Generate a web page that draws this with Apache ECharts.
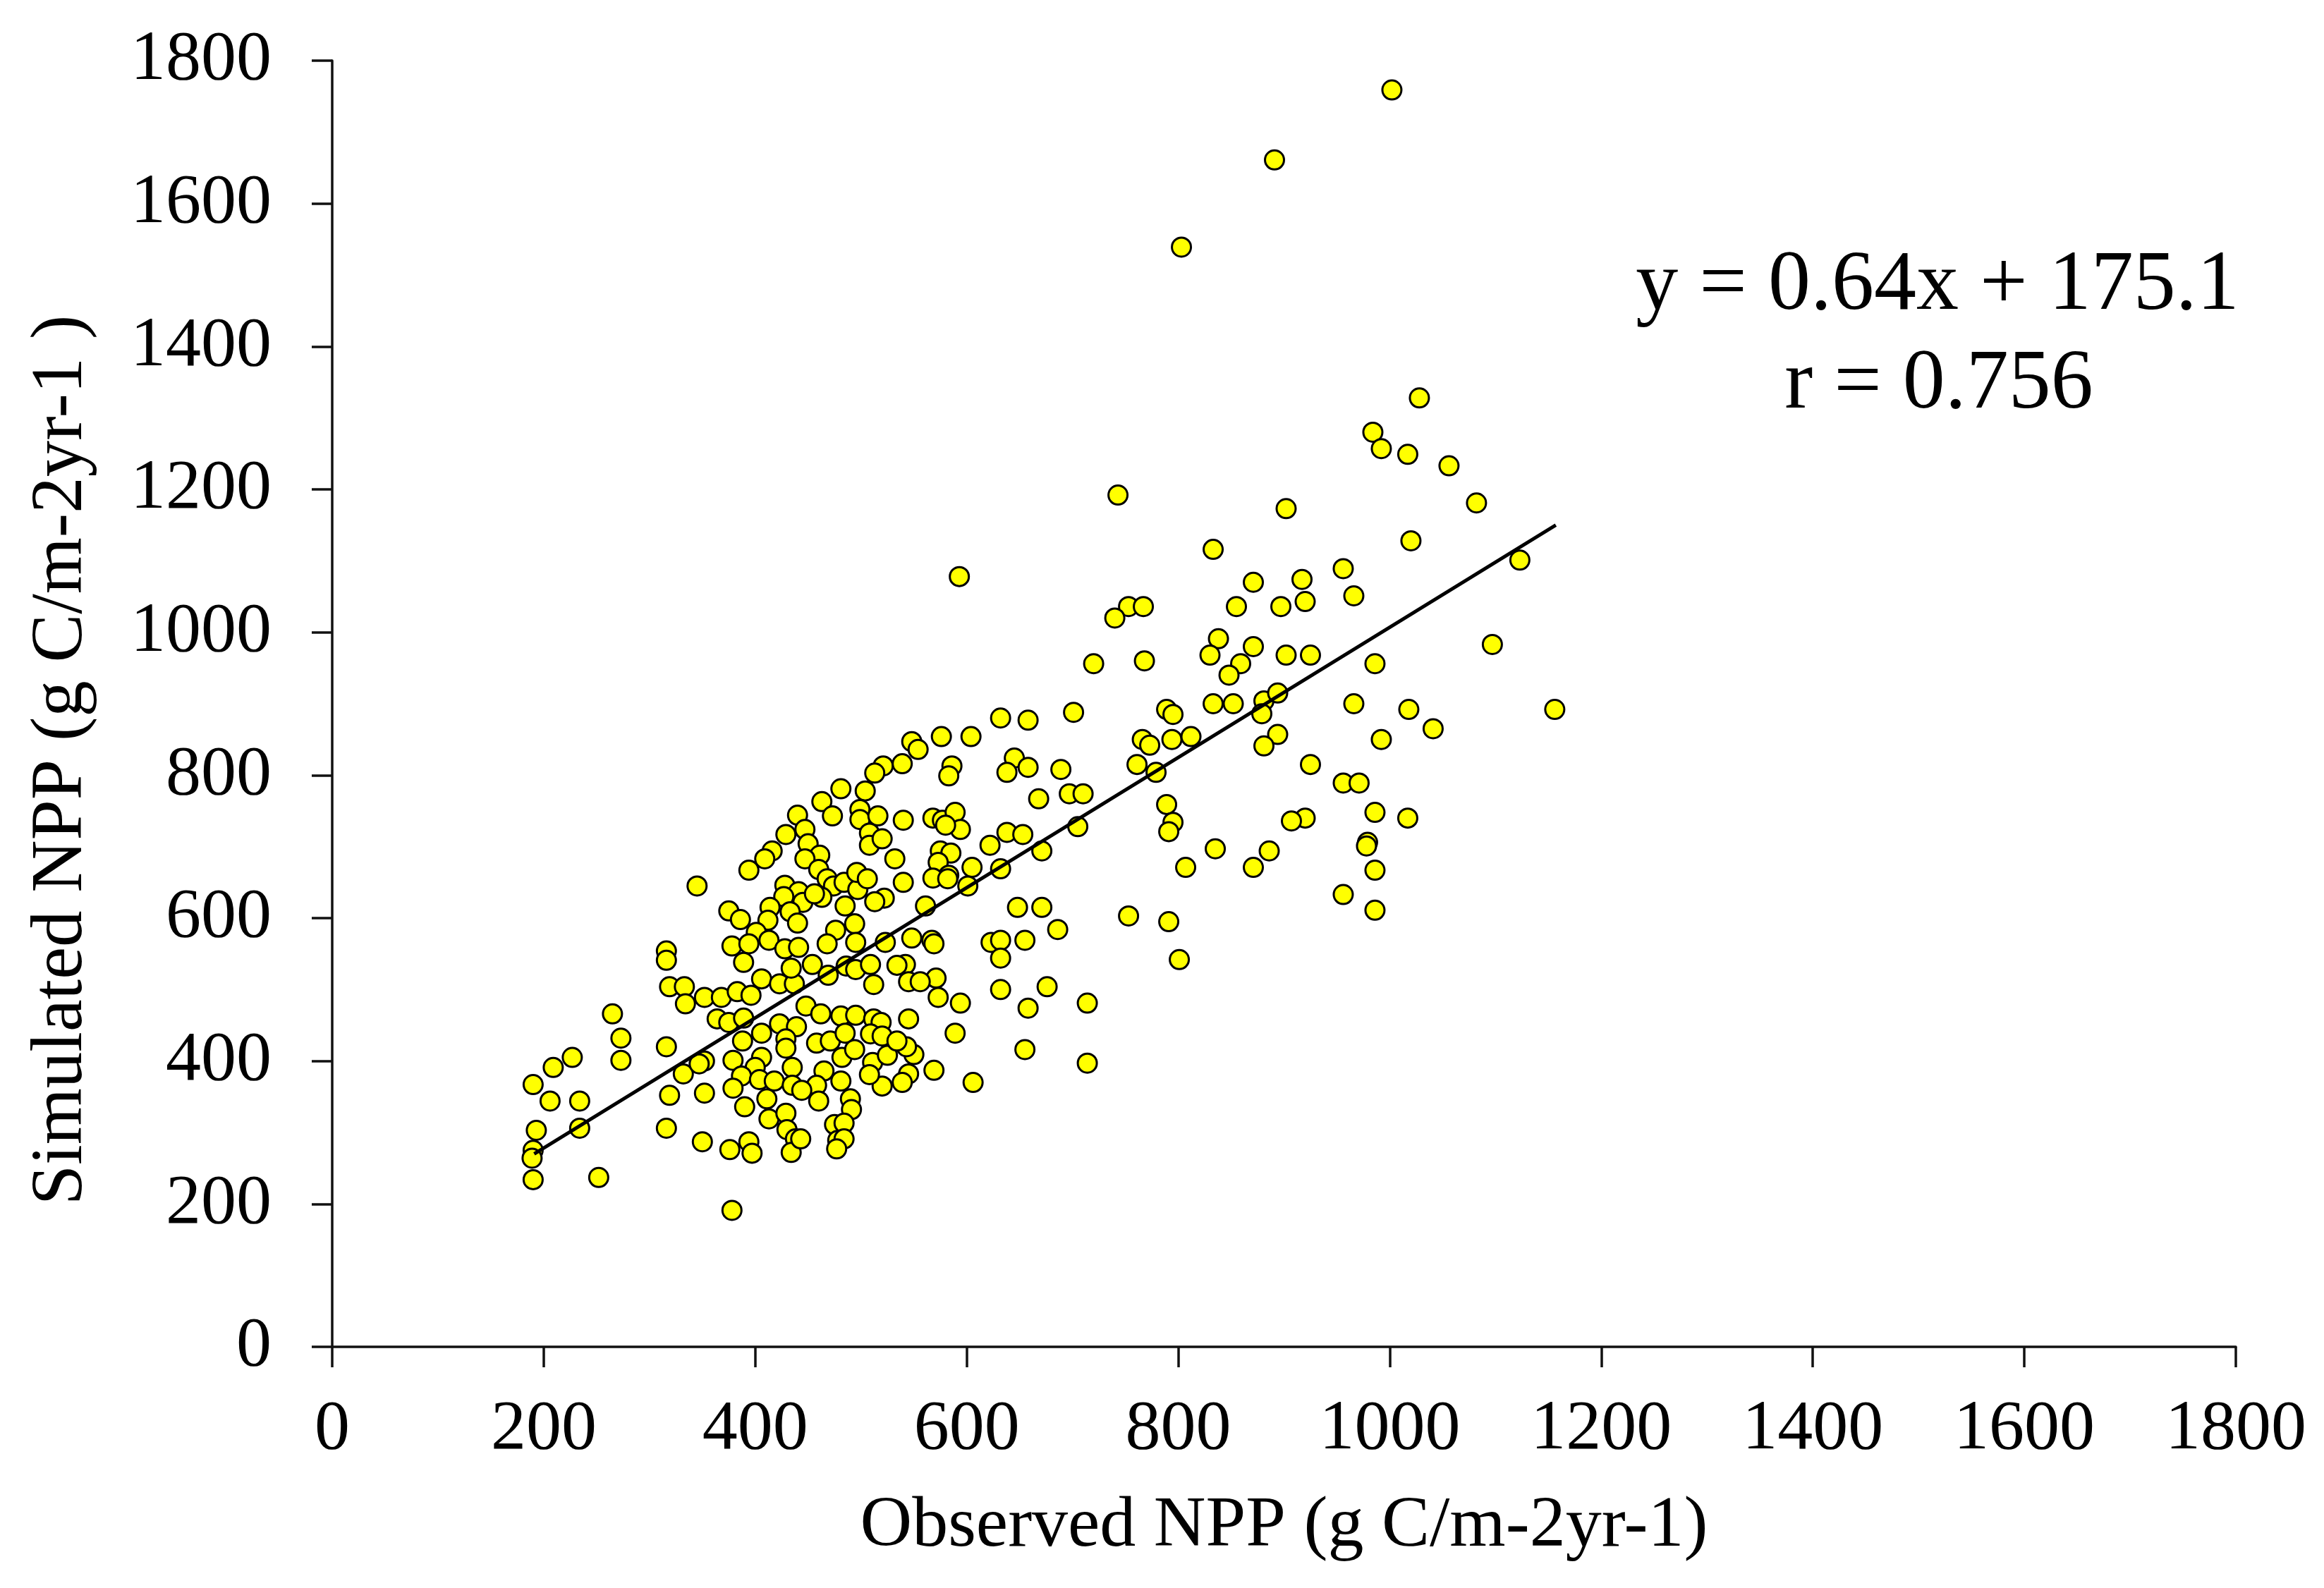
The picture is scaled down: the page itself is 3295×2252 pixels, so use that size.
<!DOCTYPE html>
<html>
<head>
<meta charset="utf-8">
<script src="https://cdn.jsdelivr.net/npm/echarts@6/dist/echarts.min.js"></script>
<style>
  html, body { margin: 0; padding: 0; background: #fff; }
  #npp { width: 3295px; height: 2252px; }
</style>
</head>
<body>
<div id="npp"></div>
<script>
// observed / simulated NPP (g C m-2 yr-1)
var observed = [
    1002, 891, 803, 1028, 593,
    481, 463, 473, 440, 447, 429, 450, 416, 461, 447, 409, 394, 460, 468, 345,
    428, 441, 474, 484, 497, 427, 445, 463, 456, 485, 375, 414, 433, 386, 412,
    440, 401, 476, 378, 394, 413, 428, 441, 468, 316,
    316, 319, 333, 334, 352, 368, 383, 396, 389, 406, 423, 437, 434, 454, 469,
    486, 495, 364, 375, 389, 265, 273, 273, 227, 316, 388, 406, 423, 439, 448,
    462, 481, 495, 429, 429, 458, 471, 485, 482, 494, 352, 379, 332, 347, 406,
    400, 387, 404, 418, 435, 435, 465, 481, 458, 444, 460, 490, 491, 319, 352,
    379, 390, 411, 234, 234, 316, 413, 429, 430, 438, 434, 443, 350, 376, 394,
    397, 475, 484, 478, 484, 477, 252, 378,
    209, 190, 206, 193, 190, 189, 190,
    632, 658, 548, 554, 576, 604, 521, 513, 539, 645, 638, 658, 586, 583, 504,
    668, 499, 499, 516, 540, 568, 577, 589, 594, 580, 508, 508, 520, 532, 622,
    638, 653, 671, 575, 585, 573, 605, 632, 583, 568, 582, 601, 496, 506, 540,
    522, 513, 561, 494, 495, 548, 567, 569, 523, 648, 671, 686, 623, 632, 655,
    632, 632, 676, 658, 714, 594, 573, 571, 589, 545, 655, 714, 606, 569, 550,
    543, 545, 539, 520, 511, 525, 508, 512, 519, 509, 520, 534, 509, 512, 542,
    534, 545, 556,
    984, 992, 1017, 1056, 1082, 743, 902, 1020, 833, 956, 871, 917, 966, 920, 855,
    897, 753, 767, 740, 838, 830, 871, 902, 925, 859, 848, 720, 768, 986, 701,
    789, 795, 833, 852, 881, 894, 879, 966, 1018, 1041, 992, 766, 773, 794, 812,
    894, 881, 761, 779, 689, 697, 710, 705, 925, 956, 971, 789, 795, 791, 986,
    1017, 920, 907, 979, 978, 986, 956, 986, 886, 871, 835, 807, 753, 791, 801,
    1123, 1097, 1156
];
var simulated = [
    1759, 1661, 1539, 1328, 1078,
    781, 763, 743, 744, 724, 717, 704, 694, 688, 683, 683, 667, 668, 655, 645,
    646, 637, 645, 650, 640, 630, 622, 629, 634, 617, 610, 615, 609, 598, 597,
    593, 580, 583, 561, 564, 569, 557, 559, 564, 554,
    541, 504, 504, 480, 489, 489, 497, 492, 538, 515, 508, 508, 530, 535, 520,
    533, 528, 459, 454, 460, 466, 432, 401, 405, 420, 428, 439, 452, 448, 477,
    466, 463, 464, 431, 418, 425, 428, 439, 405, 416, 400, 401, 382, 396, 405,
    391, 379, 374, 372, 391, 366, 386, 372, 366, 359, 344, 347, 332, 352, 355,
    362, 336, 347, 344, 306, 306, 319, 327, 304, 291, 272, 291, 287, 276, 287,
    271, 311, 313, 289, 291, 277, 237, 191,
    391, 367, 344, 303, 275, 264, 234,
    880, 877, 847, 836, 854, 854, 813, 803, 816, 824, 804, 811, 813, 799, 778,
    767, 752, 738, 743, 737, 740, 737, 748, 724, 730, 719, 702, 711, 683, 702,
    720, 717, 694, 694, 691, 678, 671, 669, 660, 656, 655, 645, 664, 655, 650,
    628, 623, 617, 592, 566, 572, 569, 564, 566, 615, 615, 584, 566, 569, 569,
    544, 500, 504, 474, 481, 481, 489, 516, 439, 459, 416, 397, 370, 387, 409,
    420, 382, 370, 365, 398, 408, 381, 459, 454, 438, 435, 428, 535, 507, 535,
    534, 511, 511,
    1280, 1257, 1249, 1233, 1181, 1192, 1173, 1128, 1116, 1089, 1070, 1074, 1051, 1043, 1036,
    1036, 1036, 1036, 1020, 991, 968, 980, 968, 968, 956, 940, 956, 960, 956, 888,
    892, 885, 900, 900, 904, 915, 886, 900, 892, 865, 850, 850, 842, 850, 854,
    857, 841, 815, 804, 808, 774, 774, 728, 815, 789, 789, 759, 734, 721, 748,
    740, 740, 736, 706, 701, 667, 633, 611, 694, 671, 697, 671, 603, 595, 542,
    1101, 983, 892
];
// fitted line, ends as drawn
var trendX = [191, 1157];
var trendY = [270, 1150];

var points = [];
for (var i = 0; i < observed.length; i++) {
    points.push([observed[i], simulated[i]]);
}
var trend = [];
for (var j = 0; j < trendX.length; j++) {
    trend.push([trendX[j], trendY[j]]);
}

var serif = 'Liberation Serif, Times New Roman, serif';
var plain = function (v) { return String(v); };
var axisCommon = {
    type: 'value',
    min: 0,
    max: 1800,
    interval: 200,
    axisLine: { show: true, lineStyle: { color: '#111', width: 3.5 } },
    axisTick: { show: true, inside: false, length: 29, lineStyle: { color: '#111', width: 3.5 } },
    splitLine: { show: false }
};

var chart = echarts.init(document.getElementById('npp'));
chart.setOption({
    animation: false,
    backgroundColor: '#fff',
    grid: { left: 471, right: 125, top: 86, bottom: 342, containLabel: false },
    xAxis: Object.assign({}, axisCommon, {
        name: 'Observed NPP (g C/m-2yr-1)',
        nameLocation: 'middle',
        nameGap: 204,
        nameTextStyle: { fontFamily: serif, fontSize: 102, color: '#000' },
        axisLabel: { fontFamily: serif, fontSize: 100, color: '#000', margin: 68, formatter: plain }
    }),
    yAxis: Object.assign({}, axisCommon, {
        axisLabel: { fontFamily: serif, fontSize: 100, color: '#000', margin: 86, formatter: plain }
    }),
    graphic: [
        {
            type: 'text', x: 88, y: 1078, rotation: Math.PI / 2,
            style: {
                text: 'Simulated NPP (g C/m-2yr-1 )', fill: '#000',
                font: '103px ' + serif, textAlign: 'center', textVerticalAlign: 'middle'
            }
        },
        {
            type: 'text', x: 2747, y: 406,
            style: {
                text: 'y = 0.64x + 175.1', fill: '#000',
                font: '120px ' + serif, textAlign: 'center', textVerticalAlign: 'middle'
            }
        },
        {
            type: 'text', x: 2749, y: 546,
            style: {
                text: 'r = 0.756', fill: '#000',
                font: '120px ' + serif, textAlign: 'center', textVerticalAlign: 'middle'
            }
        }
    ],
    series: [
        {
            type: 'scatter',
            data: points,
            symbol: 'circle',
            symbolSize: 27,
            itemStyle: { color: '#ffff00', borderColor: '#000', borderWidth: 3, opacity: 1 },
            z: 2
        },
        {
            type: 'line',
            data: trend,
            symbol: 'none',
            lineStyle: { color: '#000', width: 5 },
            z: 3
        }
    ]
});
</script>
</body>
</html>
